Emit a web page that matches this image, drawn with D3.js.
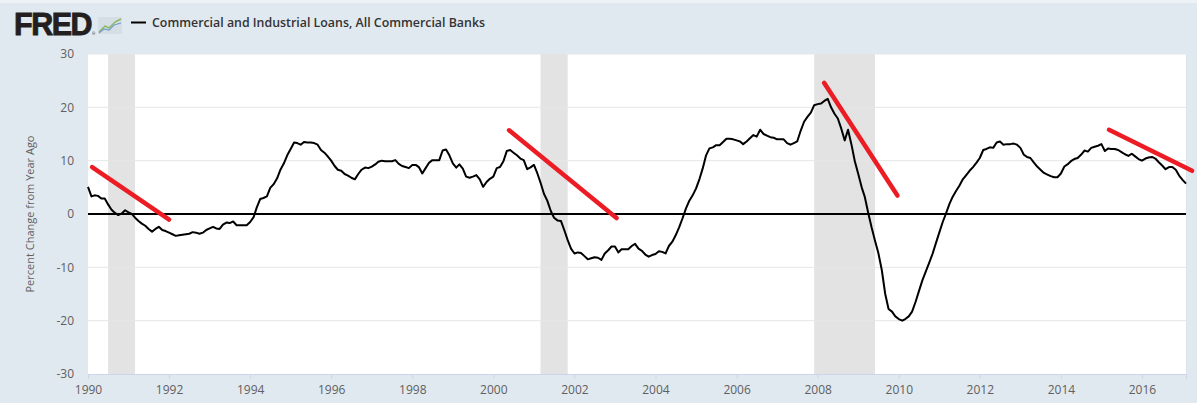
<!DOCTYPE html>
<html>
<head>
<meta charset="utf-8">
<script src="https://cdn.jsdelivr.net/npm/d3@7"></script>
<style>
  html, body { margin: 0; padding: 0; background: #e1e9f0; }
  svg { display: block; }
</style>
</head>
<body>
<div id="chart"></div>
<script>
// ---------------- DATA ----------------
const seriesName = "Commercial and Industrial Loans, All Commercial Banks";
const yAxisTitle = "Percent Change from Year Ago";
const seriesStart = "1990-01-01"; // monthly observations
const domainStart = "1990-01-01";
const domainEnd = "2017-02-01";

// Percent change from year ago, monthly, 1990-01 .. 2017-02
const loanGrowth = [
  // 1990
  5.1, 3.3, 3.5, 3.4, 2.9, 2.9, 1.8, 0.8, 0.2, -0.2, 0.1, 0.7,
  // 1991
  0.3, 0.0, -0.7, -1.3, -1.8, -2.2, -2.8, -3.3, -2.8, -2.4, -3.0, -3.2,
  // 1992
  -3.5, -3.8, -4.1, -4.0, -3.9, -3.8, -3.7, -3.4, -3.5, -3.7, -3.5, -3.0,
  // 1993
  -2.7, -2.4, -2.7, -2.8, -2.0, -1.6, -1.7, -1.4, -2.1, -2.1, -2.1, -2.1,
  // 1994
  -1.5, -0.6, 1.2, 2.8, 3.0, 3.3, 4.9, 5.6, 6.7, 8.3, 9.5, 11.0,
  // 1995
  12.2, 13.4, 13.3, 13.0, 13.5, 13.4, 13.4, 13.3, 13.0, 12.0, 11.5, 10.8,
  // 1996
  10.0, 9.0, 8.3, 8.1, 7.5, 7.2, 6.8, 6.5, 7.5, 8.3, 8.7, 8.6,
  // 1997
  8.9, 9.3, 9.8, 10.0, 9.9, 9.9, 9.9, 10.1, 9.4, 9.0, 8.8, 8.6,
  // 1998
  9.2, 9.2, 8.8, 7.6, 8.6, 9.6, 10.1, 10.1, 10.1, 11.9, 12.1, 11.0,
  // 1999
  9.5, 8.7, 9.3, 8.5, 7.0, 6.8, 7.0, 7.3, 6.5, 5.1, 6.0, 6.6,
  // 2000
  7.0, 8.6, 8.8, 9.9, 11.8, 12.0, 11.5, 11.0, 10.4, 10.1, 8.4, 8.75,
  // 2001
  9.2, 7.6, 5.9, 3.8, 2.5, 0.6, -0.7, -1.2, -1.3, -3.0, -4.9, -6.5,
  // 2002
  -7.4, -7.2, -7.3, -7.9, -8.5, -8.3, -8.1, -8.2, -8.6, -7.4, -6.8, -6.1,
  // 2003
  -6.1, -7.2, -6.6, -6.6, -6.6, -6.0, -5.6, -6.5, -6.9, -7.6, -8.0, -7.7,
  // 2004
  -7.5, -7.0, -7.1, -7.4, -6.0, -5.2, -4.0, -2.5, -0.8, 1.0, 2.5, 3.5,
  // 2005
  4.8, 6.6, 8.5, 11.0, 12.3, 12.5, 12.9, 12.9, 13.5, 14.1, 14.1, 14.0,
  // 2006
  13.8, 13.6, 13.1, 13.6, 14.2, 14.8, 14.5, 15.8, 15.0, 14.7, 14.4, 14.3,
  // 2007
  14.0, 14.0, 14.0, 13.3, 13.0, 13.3, 13.6, 15.6, 17.3, 18.2, 19.0, 20.4,
  // 2008
  20.6, 20.7, 21.2, 21.6, 20.0, 18.8, 17.9, 16.0, 13.8, 15.8, 13.0, 9.9,
  // 2009
  7.5, 5.0, 3.2, 0.2, -2.5, -5.0, -7.3, -10.5, -15.0, -17.8, -18.3, -19.2,
  // 2010
  -19.7, -20.0, -19.7, -19.2, -18.3, -16.5, -14.5, -12.5, -10.8, -9.2, -7.5, -5.5,
  // 2011
  -3.5, -1.5, 0.0, 1.8, 3.2, 4.3, 5.3, 6.5, 7.3, 8.1, 8.8, 9.6,
  // 2012
  10.5, 12.0, 12.2, 12.5, 12.4, 13.4, 13.6, 13.0, 13.1, 13.1, 13.2, 13.0,
  // 2013
  12.4, 11.1, 10.7, 10.5, 9.7, 8.9, 8.3, 7.7, 7.4, 7.1, 6.9, 6.9,
  // 2014
  7.6, 8.9, 9.3, 9.9, 10.3, 10.5, 11.1, 11.9, 11.7, 12.4, 12.6, 12.8,
  // 2015
  13.1, 11.8, 12.3, 12.2, 12.2, 12.0, 11.6, 11.2, 10.9, 11.3, 10.8, 10.3,
  // 2016
  10.0, 10.4, 10.6, 10.7, 10.4, 9.7, 9.1, 8.4, 8.8, 8.8, 8.3, 7.2,
  // 2017
  6.4, 5.7
];

// NBER recessions (shaded)
const recessionStarts = ["1990-07-01", "2001-03-01", "2007-12-01"];
const recessionEnds   = ["1991-03-01", "2001-11-01", "2009-06-01"];

// Hand-drawn red annotation lines: [startDate, startValue, endDate, endValue]
const annotationStartDates  = ["1990-02-07", "2000-05-22", "2008-02-28", "2015-03-10"];
const annotationStartValues = [8.8, 15.7, 24.6, 15.8];
const annotationEndDates    = ["1992-01-02", "2003-01-15", "2009-12-20", "2017-03-28"];
const annotationEndValues   = [-1.05, -0.75, 3.45, 8.1];

const yTicks = [-30, -20, -10, 0, 10, 20, 30];
const xTickYears = [1990, 1992, 1994, 1996, 1998, 2000, 2002, 2004, 2006, 2008, 2010, 2012, 2014, 2016];

// ---------------- CHART ----------------
const W = 1197, H = 403;
const plot = { left: 88, right: 1186, top: 54, bottom: 374 };
const parse = d3.utcParse("%Y-%m-%d");

const x = d3.scaleUtc()
  .domain([parse(domainStart), parse(domainEnd)])
  .range([plot.left, plot.right]);
const y = d3.scaleLinear().domain([-30, 30]).range([plot.bottom, plot.top]);

const start = parse(seriesStart);
const data = loanGrowth.map((v, i) => ({ date: d3.utcMonth.offset(start, i), value: v }));

const svg = d3.select("#chart").append("svg")
  .attr("width", W).attr("height", H)
  .attr("viewBox", `0 0 ${W} ${H}`);

const font = "'Open Sans', 'Noto Sans', 'DejaVu Sans', sans-serif";

// page background
svg.append("rect").attr("width", W).attr("height", H).attr("fill", "#e1e9f0");
svg.append("rect").attr("width", W).attr("height", 3).attr("fill", "#eef2f6");

// plot background
svg.append("rect")
  .attr("x", plot.left).attr("y", plot.top)
  .attr("width", plot.right - plot.left).attr("height", plot.bottom - plot.top)
  .attr("fill", "#ffffff");

// recession shading
svg.append("g").selectAll("rect")
  .data(recessionStarts.map((s, i) => ({ s: parse(s), e: parse(recessionEnds[i]) })))
  .join("rect")
  .attr("x", d => x(d.s))
  .attr("width", d => x(d.e) - x(d.s))
  .attr("y", plot.top)
  .attr("height", plot.bottom - plot.top)
  .attr("fill", "#e3e3e3");

// gridlines
svg.append("g").selectAll("line")
  .data(yTicks.filter(t => t !== 0 && t !== -30))
  .join("line")
  .attr("x1", plot.left).attr("x2", plot.right)
  .attr("y1", d => y(d)).attr("y2", d => y(d))
  .attr("stroke", "#e6e6e6").attr("stroke-width", 1);

// y tick labels
svg.append("g").selectAll("text")
  .data(yTicks)
  .join("text")
  .attr("x", 74)
  .attr("y", d => y(d))
  .attr("dy", "0.35em")
  .attr("text-anchor", "end")
  .attr("font-family", font)
  .attr("font-size", 12)
  .attr("fill", "#606060")
  .text(d => d);

// y axis title
svg.append("text")
  .attr("transform", `translate(34, ${(plot.top + plot.bottom) / 2}) rotate(-90)`)
  .attr("text-anchor", "middle")
  .attr("font-family", font)
  .attr("font-size", 11)
  .attr("fill", "#606060")
  .text(yAxisTitle);

// x axis
const xAxis = d3.axisBottom(x)
  .tickValues(xTickYears.map(yr => new Date(Date.UTC(yr, 0, 1))))
  .tickFormat(d3.utcFormat("%Y"))
  .tickSize(5)
  .tickPadding(6);
const gx = svg.append("g")
  .attr("transform", `translate(0, ${plot.bottom})`)
  .call(xAxis);
gx.select(".domain").attr("stroke", "#ccd6eb").attr("stroke-width", 1);
gx.selectAll(".tick line").attr("stroke", "#ccd6eb");
gx.selectAll(".tick text")
  .attr("font-family", font)
  .attr("font-size", 12)
  .attr("fill", "#606060");

// right border of plot
svg.append("line")
  .attr("x1", plot.right + 0.5).attr("x2", plot.right + 0.5)
  .attr("y1", plot.top).attr("y2", plot.bottom)
  .attr("stroke", "#dde3ea");

// zero line
svg.append("line")
  .attr("x1", plot.left).attr("x2", plot.right)
  .attr("y1", y(0)).attr("y2", y(0))
  .attr("stroke", "#000").attr("stroke-width", 2);

// data line
const line = d3.line().x(d => x(d.date)).y(d => y(d.value));
svg.append("path")
  .datum(data)
  .attr("fill", "none")
  .attr("stroke", "#000")
  .attr("stroke-width", 2)
  .attr("stroke-linejoin", "round")
  .attr("d", line);

// red annotation lines
svg.append("g").selectAll("line")
  .data(annotationStartDates.map((s, i) => ({
    x1: parse(s), y1: annotationStartValues[i],
    x2: parse(annotationEndDates[i]), y2: annotationEndValues[i]
  })))
  .join("line")
  .attr("x1", d => x(d.x1)).attr("y1", d => y(d.y1))
  .attr("x2", d => x(d.x2)).attr("y2", d => y(d.y2))
  .attr("stroke", "#ec1c24")
  .attr("stroke-width", 4.5)
  .attr("stroke-linecap", "round");

// ---------------- HEADER ----------------
const header = svg.append("g");
header.append("text")
  .attr("x", 14).attr("y", 35)
  .attr("font-family", "'Liberation Sans', Arial, sans-serif")
  .attr("font-weight", 700)
  .attr("font-size", 31)
  .attr("letter-spacing", -1.5)
  .attr("fill", "#231f20")
  .attr("stroke", "#231f20").attr("stroke-width", 0.9)
  .attr("textLength", 77)
  .attr("lengthAdjust", "spacingAndGlyphs")
  .text("FRED");
header.append("text")
  .attr("x", 92).attr("y", 35)
  .attr("font-family", font)
  .attr("font-size", 4)
  .attr("fill", "#231f20")
  .text("®");
// small chart icon
const icon = header.append("g").attr("transform", "translate(98, 17)");
icon.append("rect").attr("width", 24).attr("height", 17).attr("fill", "#d5dde5");
icon.append("path").attr("d", "M1 15 L7 9 L11 11 L17 5 L23 2")
  .attr("fill", "none").attr("stroke", "#8cb85c").attr("stroke-width", 1.4);
icon.append("path").attr("d", "M1 16 L6 12 L11 13 L16 8 L23 6")
  .attr("fill", "none").attr("stroke", "#6d9fc7").attr("stroke-width", 1.2);

// legend
header.append("line")
  .attr("x1", 131).attr("x2", 146).attr("y1", 22.5).attr("y2", 22.5)
  .attr("stroke", "#000").attr("stroke-width", 2);
header.append("text")
  .attr("x", 152).attr("y", 27)
  .attr("font-family", font)
  .attr("font-weight", 600)
  .attr("font-size", 13)
  .attr("fill", "#333")
  .attr("textLength", 333)
  .attr("lengthAdjust", "spacingAndGlyphs")
  .text(seriesName);
</script>
</body>
</html>
